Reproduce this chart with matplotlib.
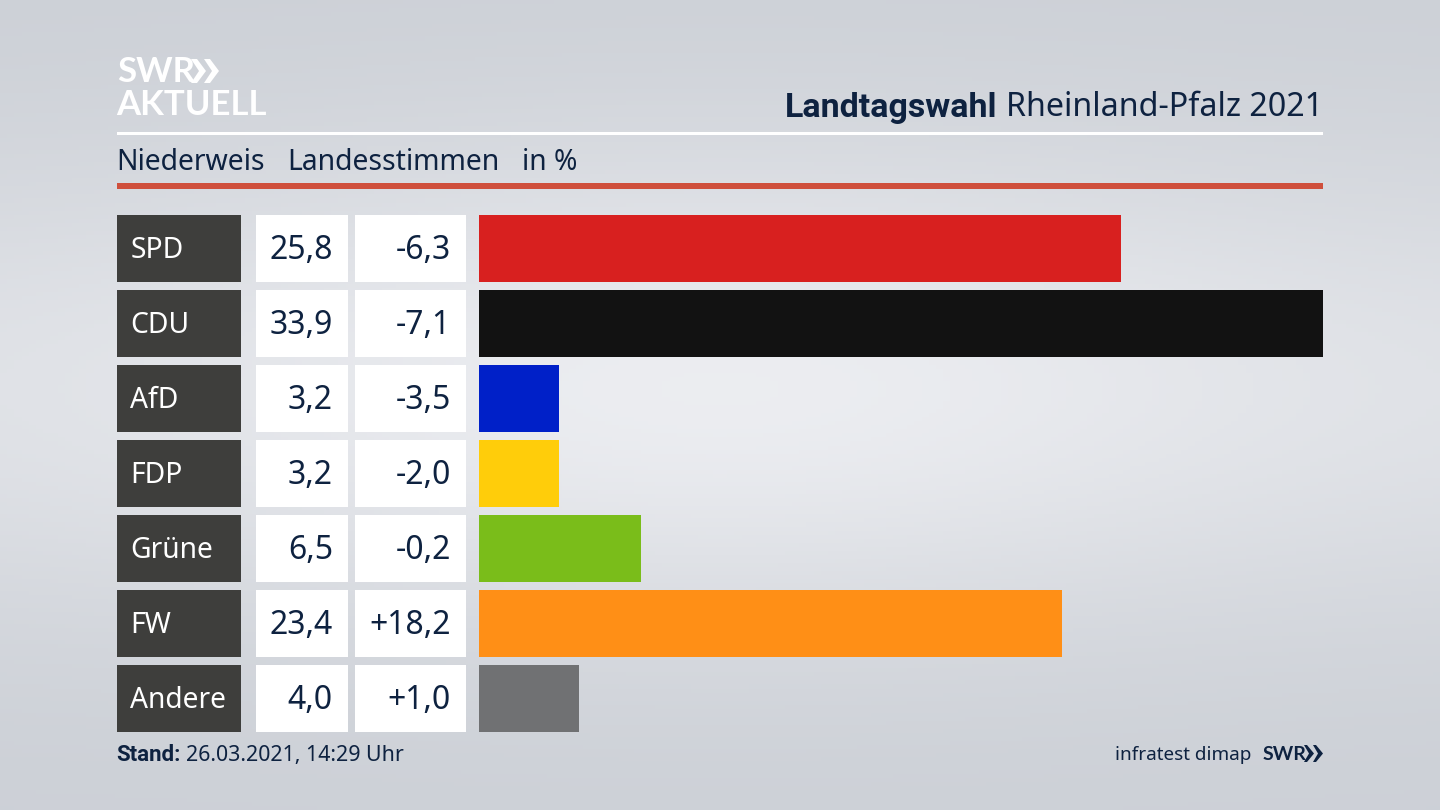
import numpy as np
import matplotlib
matplotlib.use("Agg")
import matplotlib.pyplot as plt
from matplotlib.patches import Rectangle, Polygon

parties = ["SPD", "CDU", "AfD", "FDP", "Grüne", "FW", "Andere"]
shares = [25.8, 33.9, 3.2, 3.2, 6.5, 23.4, 4.0]
changes = ["-6,3", "-7,1", "-3,5", "-2,0", "-0,2", "+18,2", "+1,0"]
colors = ["#d8201f", "#121212", "#0020c8", "#ffcd0a", "#7abd1a", "#ff8f16", "#707173"]

NAVY = "#0e2240"
plt.rcParams["font.family"] = ["Noto Sans", "DejaVu Sans"]

fig = plt.figure(figsize=(14.4, 8.1), dpi=100)

# background with soft light patch in the middle
bg = fig.add_axes([0, 0, 1, 1], zorder=0)
bg.set_axis_off()
yy, xx = np.mgrid[0:1:200j, 0:1:200j]
glow = np.exp(-((yy - 0.52) / 0.30) ** 2) * (0.55 + 0.45 * np.exp(-((xx - 0.5) / 0.38) ** 2))
col_a = np.array([0.80, 0.815, 0.84])
col_b = np.array([0.925, 0.93, 0.945])
img = col_a + (col_b - col_a) * glow[..., None]
bg.imshow(img, extent=[0, 1, 0, 1], aspect="auto", origin="lower")

# overlay in pixel coords for all the furniture
ov = fig.add_axes([0, 0, 1, 1], zorder=1)
ov.set_xlim(0, 1440)
ov.set_ylim(810, 0)
ov.set_axis_off()
ov.patch.set_alpha(0)

# logo
ov.text(117, 72, "SWR", fontsize=25, fontweight="bold", color="white", va="center", ha="left", family="Lato")
ov.text(116, 105, "AKTUELL", fontsize=25, fontweight="bold", color="white", va="center", ha="left", family="Lato")
for x0 in (191, 204):
    ov.add_patch(Polygon([(x0, 59), (x0 + 6, 59), (x0 + 15, 71), (x0 + 6, 83), (x0, 83), (x0 + 8, 71)], color="white", lw=0))

# header
ov.text(997, 108, "Landtagswahl", fontsize=24.5, fontweight="bold", color=NAVY, va="center", ha="right", family="Roboto")
ov.text(1323, 108, "Rheinland-Pfalz 2021", fontsize=23.2, color=NAVY, va="center", ha="right")
ov.add_patch(Rectangle((117, 132), 1206, 3, color="white", lw=0))
ov.text(116, 162, "Niederweis", fontsize=20.4, color=NAVY, va="center")
ov.text(287, 162, "Landesstimmen", fontsize=20.4, color=NAVY, va="center")
ov.text(522, 162, "in %", fontsize=20.3, color=NAVY, va="center")
ov.add_patch(Rectangle((117, 183), 1206, 6, color="#cf4f3c", lw=0))

# table cells
row_tops = [215, 290, 365, 440, 515, 590, 665]
row_h = 66.5
for i, top in enumerate(row_tops):
    ov.add_patch(Rectangle((117, top), 124, row_h, color="#3e3e3c", lw=0))
    ov.add_patch(Rectangle((255.5, top), 92.5, row_h, color="white", lw=0))
    ov.add_patch(Rectangle((354.5, top), 111, row_h, color="white", lw=0))
    cy = top + row_h / 2 + 2.5
    ov.text(130.5, cy, parties[i], fontsize=20.3, color="white", va="center")
    ov.text(333, cy, f"{shares[i]:.1f}".replace(".", ","), fontsize=23, color=NAVY, va="center", ha="right")
    ov.text(451, cy, changes[i], fontsize=23, color=NAVY, va="center", ha="right")

# bars
ax = fig.add_axes([479 / 1440, 1 - 731.5 / 810, (1323 - 479) / 1440, (731.5 - 215) / 810], zorder=2)
ax.patch.set_alpha(0)
ax.set_axis_off()
ax.set_xlim(0, max(shares))
ax.set_ylim(731.5, 215)
ax.barh([t + row_h / 2 for t in row_tops], shares, height=row_h, color=colors, lw=0)

# footer
ov.text(116.5, 755, "Stand:", fontsize=16, fontweight="bold", color=NAVY, va="center", family="Roboto")
ov.text(186, 755, "26.03.2021, 14:29 Uhr", fontsize=15.4, color=NAVY, va="center")
ov.text(1251, 755, "infratest dimap", fontsize=13.6, color=NAVY, va="center", ha="right")
ov.text(1263, 754.5, "SWR", fontsize=14, fontweight="bold", color=NAVY, va="center", family="Lato")
for x0 in (1304, 1313):
    ov.add_patch(Polygon([(x0, 745), (x0 + 3, 745), (x0 + 10, 753.5), (x0 + 3, 762), (x0, 762), (x0 + 5, 753.5)], color=NAVY, lw=0))

fig.savefig("out.png", dpi=100)
